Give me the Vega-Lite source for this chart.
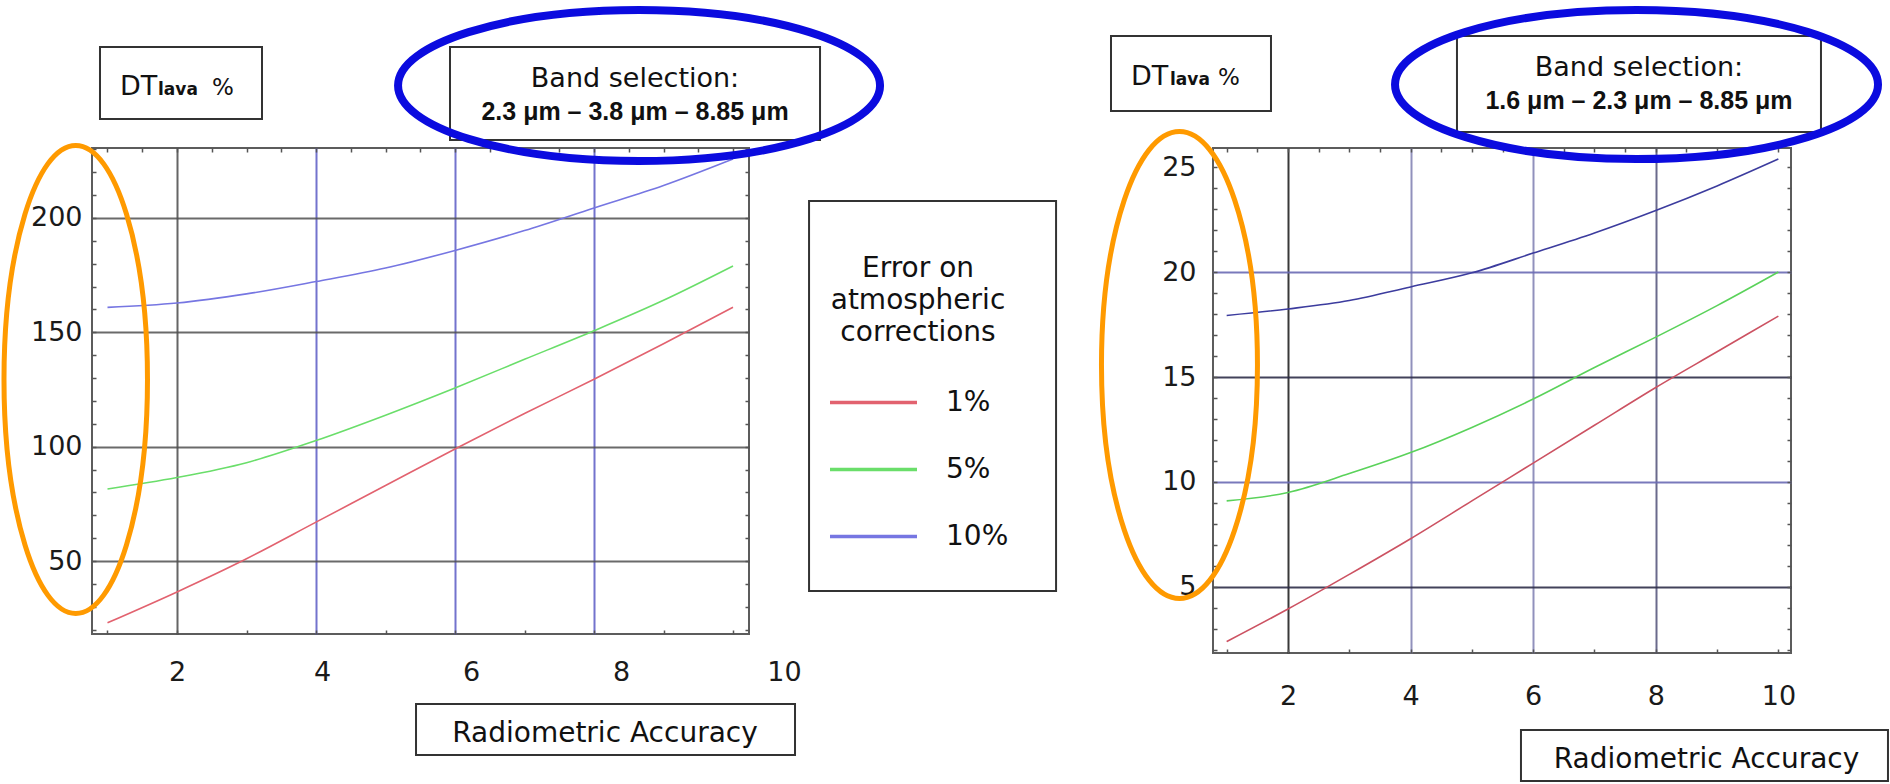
{
"$schema": "https://vega.github.io/schema/vega-lite/v6.json",
"background": "white",
"padding": {"left": 0, "top": 4, "right": 0, "bottom": 0},
"spacing": 464,
"bounds": "flush",
"config": {"view": {"stroke": "#5c5c5c", "strokeWidth": 2}, "font": "DejaVu Sans"},
"datasets": {
 "one": [{"k": 1}],
 "left": [
  {"x": 1, "y": 23, "series": "1%"}, {"x": 2, "y": 36.5, "series": "1%"}, {"x": 3, "y": 51, "series": "1%"}, {"x": 4, "y": 67, "series": "1%"}, {"x": 5, "y": 83, "series": "1%"}, {"x": 6, "y": 99, "series": "1%"}, {"x": 7, "y": 114.5, "series": "1%"}, {"x": 8, "y": 129.5, "series": "1%"}, {"x": 9, "y": 145, "series": "1%"}, {"x": 10, "y": 161, "series": "1%"},
  {"x": 1, "y": 81.5, "series": "5%"}, {"x": 2, "y": 86.5, "series": "5%"}, {"x": 3, "y": 93, "series": "5%"}, {"x": 4, "y": 102.7, "series": "5%"}, {"x": 5, "y": 113.8, "series": "5%"}, {"x": 6, "y": 125.7, "series": "5%"}, {"x": 7, "y": 138.2, "series": "5%"}, {"x": 8, "y": 150.7, "series": "5%"}, {"x": 9, "y": 164, "series": "5%"}, {"x": 10, "y": 179, "series": "5%"},
  {"x": 1, "y": 160.9, "series": "10%"}, {"x": 2, "y": 162.8, "series": "10%"}, {"x": 3, "y": 166.8, "series": "10%"}, {"x": 4, "y": 172.2, "series": "10%"}, {"x": 5, "y": 178.1, "series": "10%"}, {"x": 6, "y": 185.8, "series": "10%"}, {"x": 7, "y": 194.5, "series": "10%"}, {"x": 8, "y": 204.4, "series": "10%"}, {"x": 9, "y": 214.2, "series": "10%"}, {"x": 10, "y": 225.8, "series": "10%"}
 ],
 "right": [
  {"x": 1, "y": 2.4, "series": "1%"}, {"x": 2, "y": 3.95, "series": "1%"}, {"x": 3, "y": 5.6, "series": "1%"}, {"x": 4, "y": 7.3, "series": "1%"}, {"x": 5, "y": 9.1, "series": "1%"}, {"x": 6, "y": 10.9, "series": "1%"}, {"x": 7, "y": 12.7, "series": "1%"}, {"x": 8, "y": 14.5, "series": "1%"}, {"x": 9, "y": 16.2, "series": "1%"}, {"x": 10, "y": 17.9, "series": "1%"},
  {"x": 1, "y": 9.1, "series": "5%"}, {"x": 2, "y": 9.5, "series": "5%"}, {"x": 3, "y": 10.4, "series": "5%"}, {"x": 4, "y": 11.4, "series": "5%"}, {"x": 5, "y": 12.6, "series": "5%"}, {"x": 6, "y": 13.95, "series": "5%"}, {"x": 7, "y": 15.45, "series": "5%"}, {"x": 8, "y": 16.9, "series": "5%"}, {"x": 9, "y": 18.4, "series": "5%"}, {"x": 10, "y": 20.0, "series": "5%"},
  {"x": 1, "y": 17.93, "series": "10%"}, {"x": 2, "y": 18.24, "series": "10%"}, {"x": 3, "y": 18.64, "series": "10%"}, {"x": 4, "y": 19.29, "series": "10%"}, {"x": 5, "y": 19.96, "series": "10%"}, {"x": 6, "y": 20.9, "series": "10%"}, {"x": 7, "y": 21.86, "series": "10%"}, {"x": 8, "y": 22.93, "series": "10%"}, {"x": 9, "y": 24.1, "series": "10%"}, {"x": 10, "y": 25.38, "series": "10%"}
 ]
},
"resolve": {"scale": {"color": "independent", "x": "independent", "y": "independent"}},
"hconcat": [
 {
  "width": 657, "height": 486,
  "resolve": {"axis": {"x": "independent", "y": "independent"}},
  "layer": [
   {
    "data": {"name": "left"},
    "mark": {"type": "line", "strokeWidth": 1.6, "interpolate": "monotone"},
    "encoding": {
     "x": {"field": "x", "type": "quantitative", "scale": {"domain": [0.777, 10.23], "nice": false, "zero": false},
      "axis": {"values": [1,1.5,2,2.5,3,3.5,4,4.5,5,5.5,6,6.5,7,7.5,8,8.5,9,9.5,10], "title": null, "domain": false, "format": "d",
       "grid": true, "gridWidth": 2,
       "gridColor": {"condition": {"test": "datum.value === 2", "value": "#4a4a4a"}, "value": "#5b5bc4"},
       "gridOpacity": {"condition": {"test": "datum.value % 2 === 0 && datum.value < 10", "value": 0.85}, "value": 0},
       "tickSize": -4, "tickColor": "#555555", "tickWidth": 1.5,
       "labelFont": "DejaVu Sans", "labelFontSize": 27, "labelColor": "#1a1a1a", "labelPadding": 29,
       "labelExpr": "datum.value % 2 === 0 ? datum.label : ''", "labelFlush": false, "labelOverlap": false, "labelBound": false,
       "labelOffset": {"condition": [{"test": "datum.value === 4", "value": 6}, {"test": "datum.value === 6", "value": 16}, {"test": "datum.value === 8", "value": 27}, {"test": "datum.value === 10", "value": 51}], "value": 0}}},
     "y": {"field": "y", "type": "quantitative", "scale": {"domain": [18.1, 230.6], "nice": false, "zero": false},
      "axis": {"values": [20,30,40,50,60,70,80,90,100,110,120,130,140,150,160,170,180,190,200,210,220,230], "title": null, "domain": false, "format": "d",
       "grid": true, "gridWidth": 2, "gridColor": "#505050",
       "gridOpacity": {"condition": {"test": "datum.value % 50 === 0", "value": 0.85}, "value": 0},
       "tickSize": -4, "tickColor": "#555555", "tickWidth": 1.5,
       "labelFont": "DejaVu Sans", "labelFontSize": 27, "labelColor": "#1a1a1a", "labelPadding": 14,
       "labelExpr": "datum.value % 50 === 0 ? datum.label : ''", "labelFlush": false, "labelOverlap": false, "labelBound": false}},
     "color": {"field": "series", "type": "nominal",
      "scale": {"domain": ["1%", "5%", "10%"], "range": ["#e2626f", "#6ade6a", "#7676e2"]},
      "legend": {"orient": "none", "legendX": 736, "legendY": 107,
       "title": ["Error on", "atmospheric", "corrections"],
       "titleFont": "DejaVu Sans", "titleFontSize": 28, "titleFontWeight": "normal", "titleColor": "#111111", "titleLineHeight": 32,
       "titleAnchor": "middle", "titleAlign": "center", "titlePadding": 10, "titleLimit": 400,
       "symbolType": "stroke", "symbolSize": 7569, "symbolStrokeWidth": 3.5,
       "labelFont": "DejaVu Sans", "labelFontSize": 28, "labelColor": "#111111", "labelOffset": 27, "labelLimit": 300,
       "rowPadding": 7, "padding": 0,
       "encode": {"symbols": {"update": {"stroke": {"signal": "datum.value === '1%' ? '#d0182a' : datum.value === '5%' ? '#3fd03f' : '#16168a'"}}}}}}
    }
   },
   {
    "data": {"name": "one"},
    "mark": {"type": "point", "shape": "M 0 -1 C 0.1693 -1 0.3066 -0.5523 0.3066 0 C 0.3066 0.5523 0.1693 1 0 1 C -0.1693 1 -0.3066 0.5523 -0.3066 0 C -0.3066 -0.5523 -0.1693 -1 0 -1 Z", "size": 219024, "filled": false, "color": "#ff9a00", "strokeWidth": 5, "strokeJoin": "round", "opacity": 1},
    "encoding": {
     "x": {"datum": 0.543, "type": "quantitative", "axis": {"values": [1,1.5,2,2.5,3,3.5,4,4.5,5,5.5,6,6.5,7,7.5,8,8.5,9,9.5,10], "title": null, "domain": false, "labels": false, "grid": false, "tickSize": -4, "tickColor": "#555555", "tickWidth": 1.5}},
     "y": {"datum": 129.38, "type": "quantitative", "axis": {"values": [20,30,40,50,60,70,80,90,100,110,120,130,140,150,160,170,180,190,200,210,220,230], "title": null, "domain": false, "labels": false, "grid": false, "tickSize": -4, "tickColor": "#555555", "tickWidth": 1.5}}
    }
   },
   {
    "data": {"name": "one"},
    "mark": {"type": "rect", "fill": "white", "fillOpacity": 0, "stroke": "#333333", "strokeWidth": 2},
    "encoding": {"x": {"datum": 0.892, "type": "quantitative", "axis": null}, "x2": {"datum": 3.223}, "y": {"datum": 274.76, "type": "quantitative", "axis": null}, "y2": {"datum": 243.28}}
   },
   {
    "data": {"name": "one"},
    "mark": {"type": "rect", "fill": "white", "fillOpacity": 0, "stroke": "#333333", "strokeWidth": 2},
    "encoding": {"x": {"datum": 5.928, "type": "quantitative", "axis": null}, "x2": {"datum": 11.252}, "y": {"datum": 274.76, "type": "quantitative", "axis": null}, "y2": {"datum": 234.10}}
   },
   {
    "data": {"name": "one"},
    "mark": {"type": "rect", "fill": "white", "fillOpacity": 0, "stroke": "#333333", "strokeWidth": 2},
    "encoding": {"x": {"datum": 5.439, "type": "quantitative", "axis": null}, "x2": {"datum": 10.892}, "y": {"datum": -12.51, "type": "quantitative", "axis": null}, "y2": {"datum": -34.81}}
   },
   {
    "data": {"name": "one"},
    "mark": {"type": "rect", "fill": "white", "fillOpacity": 0, "stroke": "#333333", "strokeWidth": 2},
    "encoding": {"x": {"datum": 11.094, "type": "quantitative", "axis": null}, "x2": {"datum": 14.648}, "y": {"datum": 207.43, "type": "quantitative", "axis": null}, "y2": {"datum": 36.90}}
   },
   {
    "data": {"name": "one"},
    "mark": {"type": "text", "text": "DT", "font": "DejaVu Sans", "fontSize": 27, "align": "left", "baseline": "alphabetic", "color": "#111111"},
    "encoding": {"x": {"datum": 1.180, "type": "quantitative", "axis": null}, "y": {"datum": 253.77, "type": "quantitative", "axis": null}}
   },
   {
    "data": {"name": "one"},
    "mark": {"type": "text", "text": "lava", "font": "DejaVu Sans", "fontSize": 17, "fontWeight": "bold", "align": "left", "baseline": "alphabetic", "color": "#111111"},
    "encoding": {"x": {"datum": 1.727, "type": "quantitative", "axis": null}, "y": {"datum": 253.77, "type": "quantitative", "axis": null}}
   },
   {
    "data": {"name": "one"},
    "mark": {"type": "text", "text": "%", "font": "DejaVu Sans", "fontSize": 23, "align": "left", "baseline": "alphabetic", "color": "#111111"},
    "encoding": {"x": {"datum": 2.504, "type": "quantitative", "axis": null}, "y": {"datum": 253.77, "type": "quantitative", "axis": null}}
   },
   {
    "data": {"name": "one"},
    "mark": {"type": "text", "text": "Band selection:", "font": "DejaVu Sans", "fontSize": 27, "align": "center", "baseline": "alphabetic", "color": "#111111"},
    "encoding": {"x": {"datum": 8.590, "type": "quantitative", "axis": null}, "y": {"datum": 257.27, "type": "quantitative", "axis": null}}
   },
   {
    "data": {"name": "one"},
    "mark": {"type": "text", "text": "2.3 μm – 3.8 μm – 8.85 μm", "font": "Liberation Sans", "fontSize": 25, "fontWeight": "bold", "align": "center", "baseline": "alphabetic", "color": "#111111"},
    "encoding": {"x": {"datum": 8.590, "type": "quantitative", "axis": null}, "y": {"datum": 242.84, "type": "quantitative", "axis": null}}
   },
   {
    "data": {"name": "one"},
    "mark": {"type": "text", "text": "Radiometric Accuracy", "font": "DejaVu Sans", "fontSize": 28, "align": "center", "baseline": "alphabetic", "color": "#111111"},
    "encoding": {"x": {"datum": 8.158, "type": "quantitative", "axis": null}, "y": {"datum": -29.13, "type": "quantitative", "axis": null}}
   },
   {
    "data": {"name": "one"},
    "mark": {"type": "point", "shape": "M -1 0 C -1 -0.173 -0.5523 -0.3133 0 -0.3133 C 0.5523 -0.3133 1 -0.173 1 0 C 1 0.173 0.5523 0.3133 0 0.3133 C -0.5523 0.3133 -1 0.173 -1 0 Z", "size": 232324, "filled": false, "color": "#0b0bdf", "strokeWidth": 8, "strokeJoin": "round", "opacity": 1},
    "encoding": {"x": {"datum": 8.648, "type": "quantitative", "axis": null}, "y": {"datum": 257.93, "type": "quantitative", "axis": null}}
   }
  ]
 },
 {
  "width": 578, "height": 505,
  "resolve": {"axis": {"x": "independent", "y": "independent"}},
  "layer": [
   {
    "data": {"name": "right"},
    "mark": {"type": "line", "strokeWidth": 1.6, "interpolate": "monotone"},
    "encoding": {
     "x": {"field": "x", "type": "quantitative", "scale": {"domain": [0.777, 10.206], "nice": false, "zero": false},
      "axis": {"values": [1,1.5,2,2.5,3,3.5,4,4.5,5,5.5,6,6.5,7,7.5,8,8.5,9,9.5,10], "title": null, "domain": false, "format": "d",
       "grid": true, "gridWidth": 2,
       "gridColor": {"condition": [{"test": "datum.value === 2", "value": "#222222"}, {"test": "datum.value === 8", "value": "#5a5a80"}], "value": "#8585b5"},
       "gridOpacity": {"condition": {"test": "datum.value % 2 === 0 && datum.value < 10", "value": 0.9}, "value": 0},
       "tickSize": -4, "tickColor": "#555555", "tickWidth": 1.5,
       "labelFont": "DejaVu Sans", "labelFontSize": 27, "labelColor": "#1a1a1a", "labelPadding": 34,
       "labelExpr": "datum.value % 2 === 0 ? datum.label : ''", "labelFlush": false, "labelOverlap": false, "labelBound": false}},
     "y": {"field": "y", "type": "quantitative", "scale": {"domain": [1.857, 25.905], "nice": false, "zero": false},
      "axis": {"values": [2,3,4,5,6,7,8,9,10,11,12,13,14,15,16,17,18,19,20,21,22,23,24,25], "title": null, "domain": false, "format": "d",
       "grid": true, "gridWidth": 2,
       "gridColor": {"condition": {"test": "datum.value === 10 || datum.value === 20", "value": "#6a6ab4"}, "value": "#2e2e48"},
       "gridOpacity": {"condition": {"test": "datum.value % 5 === 0 && datum.value < 25", "value": 0.9}, "value": 0},
       "tickSize": -4, "tickColor": "#555555", "tickWidth": 1.5,
       "labelFont": "DejaVu Sans", "labelFontSize": 27, "labelColor": "#1a1a1a", "labelPadding": 21,
       "labelExpr": "datum.value % 5 === 0 ? datum.label : ''", "labelFlush": false, "labelOverlap": false, "labelBound": false}},
     "color": {"field": "series", "type": "nominal",
      "scale": {"domain": ["1%", "5%", "10%"], "range": ["#cc5262", "#5ad25a", "#3c3c9e"]},
      "legend": null}
    }
   },
   {
    "data": {"name": "one"},
    "mark": {"type": "point", "shape": "M 0 -1 C 0.1845 -1 0.334 -0.5523 0.334 0 C 0.334 0.5523 0.1845 1 0 1 C -0.1845 1 -0.334 0.5523 -0.334 0 C -0.334 -0.5523 -0.1845 -1 0 -1 Z", "size": 218089, "filled": false, "color": "#ff9a00", "strokeWidth": 5, "strokeJoin": "round", "opacity": 1},
    "encoding": {
     "x": {"datum": 0.230, "type": "quantitative", "axis": {"values": [1,1.5,2,2.5,3,3.5,4,4.5,5,5.5,6,6.5,7,7.5,8,8.5,9,9.5,10], "title": null, "domain": false, "labels": false, "grid": false, "tickSize": -4, "tickColor": "#555555", "tickWidth": 1.5}},
     "y": {"datum": 15.572, "type": "quantitative", "axis": {"values": [2,3,4,5,6,7,8,9,10,11,12,13,14,15,16,17,18,19,20,21,22,23,24,25], "title": null, "domain": false, "labels": false, "grid": false, "tickSize": -4, "tickColor": "#555555", "tickWidth": 1.5}}
    }
   },
   {
    "data": {"name": "one"},
    "mark": {"type": "rect", "fill": "white", "fillOpacity": 0, "stroke": "#333333", "strokeWidth": 2},
    "encoding": {"x": {"datum": -0.887, "type": "quantitative", "axis": null}, "x2": {"datum": 1.723}, "y": {"datum": 31.238, "type": "quantitative", "axis": null}, "y2": {"datum": 27.667}}
   },
   {
    "data": {"name": "one"},
    "mark": {"type": "rect", "fill": "white", "fillOpacity": 0, "stroke": "#333333", "strokeWidth": 2},
    "encoding": {"x": {"datum": 4.757, "type": "quantitative", "axis": null}, "x2": {"datum": 10.695}, "y": {"datum": 31.238, "type": "quantitative", "axis": null}, "y2": {"datum": 26.667}}
   },
   {
    "data": {"name": "one"},
    "mark": {"type": "rect", "fill": "white", "fillOpacity": 0, "stroke": "#333333", "strokeWidth": 2},
    "encoding": {"x": {"datum": 5.801, "type": "quantitative", "axis": null}, "x2": {"datum": 11.788}, "y": {"datum": -1.809, "type": "quantitative", "axis": null}, "y2": {"datum": -4.238}}
   },
   {
    "data": {"name": "one"},
    "mark": {"type": "text", "text": "DT", "font": "DejaVu Sans", "fontSize": 27, "align": "left", "baseline": "alphabetic", "color": "#111111"},
    "encoding": {"x": {"datum": -0.561, "type": "quantitative", "axis": null}, "y": {"datum": 28.905, "type": "quantitative", "axis": null}}
   },
   {
    "data": {"name": "one"},
    "mark": {"type": "text", "text": "lava", "font": "DejaVu Sans", "fontSize": 17, "fontWeight": "bold", "align": "left", "baseline": "alphabetic", "color": "#111111"},
    "encoding": {"x": {"datum": 0.076, "type": "quantitative", "axis": null}, "y": {"datum": 28.905, "type": "quantitative", "axis": null}}
   },
   {
    "data": {"name": "one"},
    "mark": {"type": "text", "text": "%", "font": "DejaVu Sans", "fontSize": 23, "align": "left", "baseline": "alphabetic", "color": "#111111"},
    "encoding": {"x": {"datum": 0.859, "type": "quantitative", "axis": null}, "y": {"datum": 28.905, "type": "quantitative", "axis": null}}
   },
   {
    "data": {"name": "one"},
    "mark": {"type": "text", "text": "Band selection:", "font": "DejaVu Sans", "fontSize": 27, "align": "center", "baseline": "alphabetic", "color": "#111111"},
    "encoding": {"x": {"datum": 7.726, "type": "quantitative", "axis": null}, "y": {"datum": 29.334, "type": "quantitative", "axis": null}}
   },
   {
    "data": {"name": "one"},
    "mark": {"type": "text", "text": "1.6 μm – 2.3 μm – 8.85 μm", "font": "Liberation Sans", "fontSize": 25, "fontWeight": "bold", "align": "center", "baseline": "alphabetic", "color": "#111111"},
    "encoding": {"x": {"datum": 7.726, "type": "quantitative", "axis": null}, "y": {"datum": 27.762, "type": "quantitative", "axis": null}}
   },
   {
    "data": {"name": "one"},
    "mark": {"type": "text", "text": "Radiometric Accuracy", "font": "DejaVu Sans", "fontSize": 28, "align": "center", "baseline": "alphabetic", "color": "#111111"},
    "encoding": {"x": {"datum": 8.828, "type": "quantitative", "axis": null}, "y": {"datum": -3.619, "type": "quantitative", "axis": null}}
   },
   {
    "data": {"name": "one"},
    "mark": {"type": "point", "shape": "M -1 0 C -1 -0.1704 -0.5523 -0.3085 0 -0.3085 C 0.5523 -0.3085 1 -0.1704 1 0 C 1 0.1704 0.5523 0.3085 0 0.3085 C -0.5523 0.3085 -1 0.1704 -1 0 Z", "size": 233289, "filled": false, "color": "#0b0bdf", "strokeWidth": 8, "strokeJoin": "round", "opacity": 1},
    "encoding": {"x": {"datum": 7.686, "type": "quantitative", "axis": null}, "y": {"datum": 28.929, "type": "quantitative", "axis": null}}
   }
  ]
 }
]
}
